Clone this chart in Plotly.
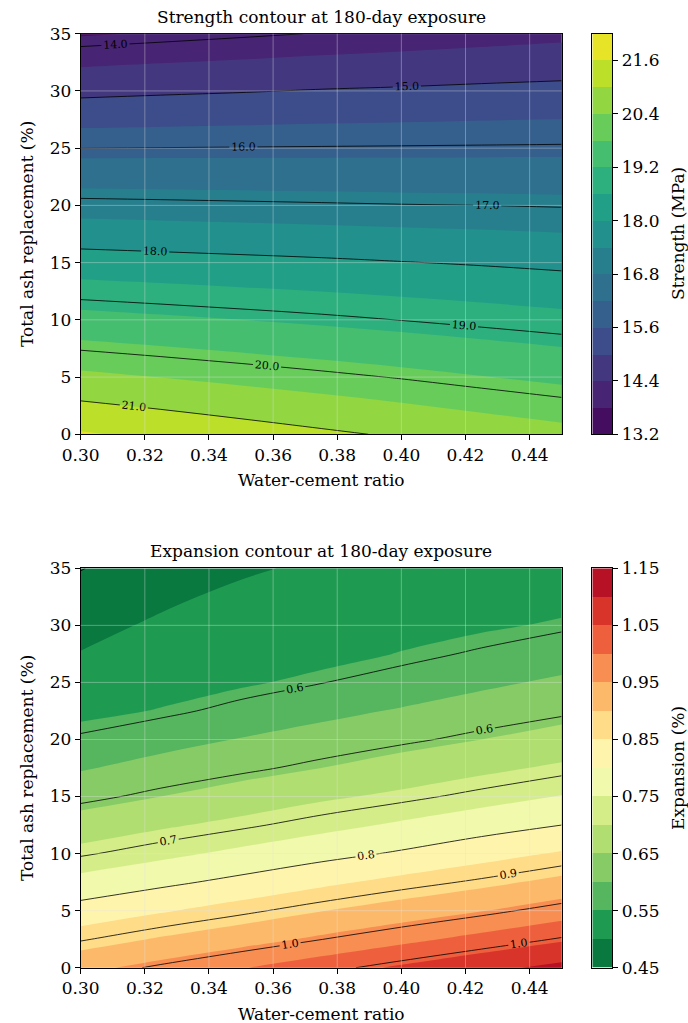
import numpy as np
import plotly.graph_objects as go
import plotly.colors as pc

# ---- mix-design grid -------------------------------------------------------
wc_ratio = [0.30, 0.325, 0.35, 0.375, 0.40, 0.425, 0.45]

# strength grid rows (total ash replacement, %)
ash_strength = [0, 5, 10, 15, 20, 25, 30, 35]
# 180-day compressive strength (MPa); rows follow ash_strength, columns follow wc_ratio
strength = [
    [21.66, 21.47, 21.28, 21.10, 20.93, 20.75, 20.58],
    [20.53, 20.39, 20.25, 20.11, 19.97, 19.82, 19.68],
    [19.40, 19.30, 19.20, 19.10, 18.99, 18.88, 18.77],
    [18.27, 18.21, 18.15, 18.09, 18.02, 17.95, 17.87],
    [17.14, 17.11, 17.08, 17.05, 17.02, 17.00, 16.97],
    [16.00, 16.01, 16.02, 16.03, 16.04, 16.05, 16.06],
    [14.86, 14.92, 14.97, 15.03, 15.07, 15.12, 15.16],
    [13.75, 13.84, 13.93, 14.02, 14.10, 14.18, 14.26],
]

# expansion grid rows (total ash replacement, %)
ash_expansion = [0, 2.5, 5, 7.5, 10, 12.5, 15, 17.5, 20, 22.5, 25, 27.5, 30, 32.5, 35]
# 180-day expansion (%); rows follow ash_expansion, columns follow wc_ratio
expansion = [
    [0.937, 0.967, 0.997, 1.027, 1.057, 1.087, 1.113],
    [0.876, 0.905, 0.931, 0.959, 0.987, 1.015, 1.044],
    [0.819, 0.845, 0.871, 0.898, 0.923, 0.948, 0.976],
    [0.766, 0.789, 0.813, 0.839, 0.864, 0.887, 0.913],
    [0.715, 0.738, 0.761, 0.784, 0.806, 0.831, 0.855],
    [0.671, 0.693, 0.713, 0.735, 0.757, 0.779, 0.800],
    [0.630, 0.650, 0.671, 0.692, 0.710, 0.731, 0.752],
    [0.596, 0.616, 0.632, 0.650, 0.670, 0.689, 0.708],
    [0.565, 0.584, 0.602, 0.618, 0.633, 0.650, 0.669],
    [0.541, 0.552, 0.570, 0.588, 0.604, 0.619, 0.633],
    [0.520, 0.536, 0.545, 0.559, 0.572, 0.592, 0.607],
    [0.501, 0.520, 0.5335, 0.5385, 0.5515, 0.564, 0.580],
    [0.492, 0.504, 0.517, 0.527, 0.536, 0.545, 0.554],
    [0.485, 0.495, 0.506, 0.516, 0.523, 0.531, 0.539],
    [0.4795, 0.488, 0.496, 0.505, 0.511, 0.517, 0.522],
]

# filled-band boundaries and labelled contour lines
strength_levels = [13.2, 13.8, 14.4, 15.0, 15.6, 16.2, 16.8, 17.4, 18.0,
                   18.6, 19.2, 19.8, 20.4, 21.0, 21.6, 22.2]
strength_lines = [14.0, 15.0, 16.0, 17.0, 18.0, 19.0, 20.0, 21.0]
expansion_levels = [0.45, 0.50, 0.55, 0.60, 0.65, 0.70, 0.75, 0.80,
                    0.85, 0.90, 0.95, 1.00, 1.05, 1.10, 1.15]
expansion_lines = [0.48, 0.56, 0.64, 0.72, 0.80, 0.88, 0.96, 1.04, 1.12]

x_ticks = [0.30, 0.32, 0.34, 0.36, 0.38, 0.40, 0.42, 0.44]
y_ticks = [0, 5, 10, 15, 20, 25, 30, 35]

# ---- styling ---------------------------------------------------------------
W, H = 688, 1023
FONT = "DejaVu Serif"
TICK_SIZE = 17
LABEL_SIZE = 17
TITLE_SIZE = 17
CLABEL_SIZE = 11
GRID = "rgba(225,225,225,0.38)"


def parse_color(c):
    c = c.strip()
    if c.startswith("#"):
        return tuple(int(c[i:i + 2], 16) for i in (1, 3, 5))
    vals = c[c.index("(") + 1:c.index(")")].split(",")
    return tuple(float(v) for v in vals[:3])


def sample(anchors, t):
    """Linear interpolation inside an evenly spaced list of anchor colours."""
    rgb = [parse_color(a) for a in anchors]
    pos = t * (len(rgb) - 1)
    i = min(int(np.floor(pos)), len(rgb) - 2)
    f = pos - i
    a, b = rgb[i], rgb[i + 1]
    r, g, bl = (a[k] + (b[k] - a[k]) * f for k in range(3))
    return f"rgb({round(r)},{round(g)},{round(bl)})"


def band_scale(anchors, levels):
    n = len(levels) - 1
    cols = [sample(anchors, (i + 0.5) / n) for i in range(n)]
    return [[i / (n - 1), c] for i, c in enumerate(cols)]


viridis = list(pc.sequential.Viridis)
rdylgn_r = list(pc.diverging.RdYlGn)[::-1]


def py(px):
    return 1 - px / H


def px_x(px):
    return px / W


AX_X = (80.7, 561.7)
CB_X = (592.3, 612.3)
PANELS = [
    dict(top=33.7, bottom=434.3),
    dict(top=568.3, bottom=967.7),
]

fig = go.Figure()
shapes = []
annotations = []

panel_specs = [
    dict(y=ash_strength, z=strength, levels=strength_levels, lines=strength_lines,
         anchors=viridis, title="Strength contour at 180-day exposure",
         cbar="Strength (MPa)", cb_fmt="{:.1f}"),
    dict(y=ash_expansion, z=expansion, levels=expansion_levels, lines=expansion_lines,
         anchors=rdylgn_r, title="Expansion contour at 180-day exposure",
         cbar="Expansion (%)", cb_fmt="{:.2f}"),
]

for k, (spec, geo) in enumerate(zip(panel_specs, PANELS)):
    xa = "x" if k == 0 else f"x{2 * k + 1}"
    ya = "y" if k == 0 else f"y{2 * k + 1}"
    xc = f"x{2 * k + 2}"
    yc = f"y{2 * k + 2}"
    levels = spec["levels"]
    step = levels[1] - levels[0]
    cscale = band_scale(spec["anchors"], levels)
    lines = spec["lines"]

    # filled bands
    fig.add_trace(go.Contour(
        x=wc_ratio, y=spec["y"], z=spec["z"], xaxis=xa, yaxis=ya,
        colorscale=cscale, showscale=False, hoverinfo="skip",
        contours=dict(coloring="fill", start=levels[1], end=levels[-2],
                      size=step, showlines=False),
        line=dict(width=0, smoothing=1),
    ))
    # labelled contour lines
    fig.add_trace(go.Contour(
        x=wc_ratio, y=spec["y"], z=spec["z"], xaxis=xa, yaxis=ya,
        showscale=False, hoverinfo="skip",
        contours=dict(coloring="none", start=lines[0], end=lines[-1],
                      size=lines[1] - lines[0], showlabels=True,
                      labelformat=".1f",
                      labelfont=dict(family=FONT, size=CLABEL_SIZE, color="black")),
        line=dict(color="black", width=0.8, smoothing=1),
    ))
    # colour bar
    n = len(levels) - 1
    fig.add_trace(go.Heatmap(
        x=[0, 1], y=levels, z=[[i] for i in range(n)], xaxis=xc, yaxis=yc,
        colorscale=cscale, zmin=0, zmax=n - 1, showscale=False, hoverinfo="skip",
    ))

    ydom = [py(geo["bottom"]), py(geo["top"])]
    axis_common = dict(showline=True, linecolor="black", linewidth=1, mirror=True,
                       ticks="outside", ticklen=5, tickwidth=1, tickcolor="black",
                       showgrid=False, zeroline=False, automargin=False,
                       tickfont=dict(family=FONT, size=TICK_SIZE, color="black"))
    fig.update_layout(**{
        ("xaxis" if k == 0 else f"xaxis{2 * k + 1}"): dict(
            domain=[px_x(AX_X[0]), px_x(AX_X[1])], range=[wc_ratio[0], wc_ratio[-1]],
            tickvals=x_ticks, ticktext=[f"{v:.2f}" for v in x_ticks],
            anchor=ya, **axis_common),
        ("yaxis" if k == 0 else f"yaxis{2 * k + 1}"): dict(
            domain=ydom, range=[spec["y"][0], spec["y"][-1]],
            tickvals=y_ticks, ticktext=[str(v) for v in y_ticks],
            anchor=xa, **axis_common),
        f"xaxis{2 * k + 2}": dict(
            domain=[px_x(CB_X[0]), px_x(CB_X[1])], range=[0, 1],
            showticklabels=False, ticks="", showline=True, linecolor="black",
            linewidth=1, mirror=True, showgrid=False, zeroline=False,
            automargin=False, anchor=yc),
        f"yaxis{2 * k + 2}": dict(
            domain=ydom, range=[levels[0], levels[-1]], side="right",
            tickvals=levels[::2], ticktext=[spec["cb_fmt"].format(v) for v in levels[::2]],
            anchor=xc, **axis_common),
    })

    # grid lines over the filled contours
    for v in x_ticks[1:]:
        shapes.append(dict(type="line", xref=xa, yref=f"{ya} domain", x0=v, x1=v,
                           y0=0, y1=1, layer="above", line=dict(color=GRID, width=1)))
    for v in y_ticks[1:]:
        shapes.append(dict(type="line", xref=f"{xa} domain", yref=ya, x0=0, x1=1,
                           y0=v, y1=v, layer="above", line=dict(color=GRID, width=1)))

    cx = px_x((AX_X[0] + AX_X[1]) / 2)
    cy = (geo["top"] + geo["bottom"]) / 2
    annotations += [
        dict(text=spec["title"], x=cx, y=py(geo["top"] - 5), xref="paper", yref="paper",
             xanchor="center", yanchor="bottom", showarrow=False,
             font=dict(family=FONT, size=TITLE_SIZE, color="black")),
        dict(text="Water-cement ratio", x=cx, y=py(geo["bottom"] + 46), xref="paper",
             yref="paper", xanchor="center", yanchor="middle", showarrow=False,
             font=dict(family=FONT, size=LABEL_SIZE, color="black")),
        dict(text="Total ash replacement (%)", x=px_x(27), y=py(cy), xref="paper",
             yref="paper", xanchor="center", yanchor="middle", textangle=-90,
             showarrow=False, font=dict(family=FONT, size=LABEL_SIZE, color="black")),
        dict(text=spec["cbar"], x=px_x(678), y=py(cy), xref="paper", yref="paper",
             xanchor="center", yanchor="middle", textangle=-90, showarrow=False,
             font=dict(family=FONT, size=LABEL_SIZE, color="black")),
    ]

fig.update_layout(
    width=W, height=H,
    margin=dict(l=0, r=0, t=0, b=0, pad=0, autoexpand=False),
    paper_bgcolor="white", plot_bgcolor="white", showlegend=False,
    shapes=shapes, annotations=annotations,
    font=dict(family=FONT, color="black"),
)

fig.write_html("out.html")
